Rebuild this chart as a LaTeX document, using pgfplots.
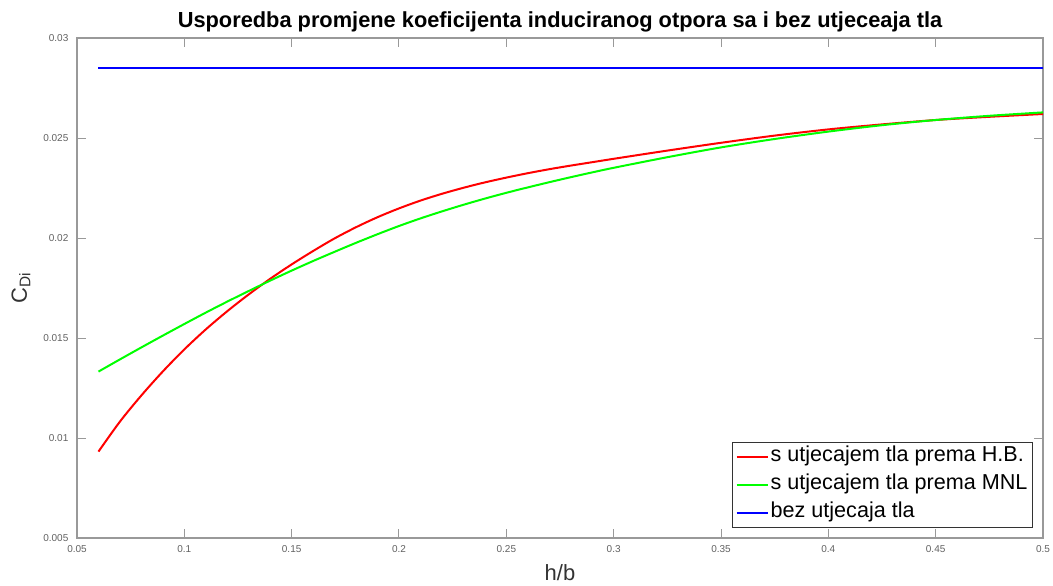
\documentclass[border=0pt]{standalone}
\usepackage{fontspec}
\setmainfont{Liberation Sans}
\usepackage{pgfplots}
\usepackage{pgfplotstable}
\pgfplotsset{compat=1.18}
\definecolor{axgray}{gray}{0.6}
\definecolor{tickgray}{gray}{0.38}
\definecolor{leggray}{gray}{0.2}

\pgfplotstableread{
x      hb       mnl
0.060  0.00932  0.01332
0.070  0.01082  0.01393
0.080  0.01213  0.01453
0.090  0.01333  0.01512
0.100  0.01443  0.01570
0.110  0.01543  0.01627
0.120  0.01634  0.01682
0.130  0.01718  0.01735
0.140  0.01796  0.01787
0.150  0.01868  0.01837
0.160  0.01935  0.01885
0.170  0.01998  0.01931
0.180  0.02054  0.01976
0.190  0.02104  0.02019
0.200  0.02148  0.02060
0.210  0.02187  0.02098
0.220  0.02221  0.02133
0.230  0.02251  0.02166
0.240  0.02278  0.02197
0.250  0.02302  0.02226
0.260  0.02324  0.02253
0.270  0.02344  0.02279
0.280  0.02362  0.02304
0.290  0.02379  0.02328
0.300  0.02396  0.02351
0.325  0.02437  0.02404
0.350  0.02476  0.02453
0.375  0.02512  0.02495
0.400  0.02543  0.02532
0.425  0.02568  0.02564
0.450  0.02590  0.02590
0.475  0.02606  0.02611
0.500  0.02620  0.02628
}\cdidata

\pgfplotstableread{
x     y
0.06  0.02850
0.50  0.02850
}\nogrounddata

\begin{document}
\begin{tikzpicture}
\begin{axis}[
  scale only axis,
  width=483pt, height=250pt,
  xmin=0.05, xmax=0.5, ymin=0.005, ymax=0.03,
  xtick={0.05,0.1,0.15,0.2,0.25,0.3,0.35,0.4,0.45,0.5},
  xticklabels={0.05,0.1,0.15,0.2,0.25,0.3,0.35,0.4,0.45,0.5},
  ytick={0.005,0.01,0.015,0.02,0.025,0.03},
  yticklabels={0.005,0.01,0.015,0.02,0.025,0.03},
  scaled ticks=false,
  tick align=inside,
  major tick length=4.5pt,
  tick style={axgray, line width=0.5pt},
  axis line style={axgray, line width=0.6pt},
  ticklabel style={font=\fontsize{5}{6}\selectfont, text=tickgray},
  yticklabel style={xshift=-0.8pt},
  title={Usporedba promjene koeficijenta induciranog otpora sa i bez utjeceaja tla},
  every axis title/.style={font=\fontsize{10.9}{12}\selectfont\bfseries, at={(axis description cs:0.5,1.032)}, anchor=center},
  xlabel={h/b},
  xlabel style={font=\fontsize{11}{12}\selectfont, text=leggray, at={(axis description cs:0.5,-0.07)}, anchor=center},
  ylabel={C\textsubscript{Di}},
  ylabel style={font=\fontsize{11}{12}\selectfont, text=leggray, at={(axis description cs:-0.058,0.5)}, anchor=center},
  legend style={at={(axis description cs:1,0)}, anchor=south east, xshift=-5pt, yshift=5pt,
    font=\fontsize{10.8}{12}\selectfont, draw=leggray, line width=0.5pt,
    inner xsep=1.5pt, inner ysep=0.3pt, row sep=0pt, column sep=0pt,
    nodes={inner xsep=1pt, inner ysep=0pt, text height=9.5pt, text depth=4.5pt},
    cells={anchor=west}},
  legend image code/.code={\draw[#1] (0pt,0pt) -- (15.5pt,0pt);},
]
\addplot[red, line width=1pt, smooth] table[x=x, y=hb] {\cdidata};
\addlegendentry{s utjecajem tla prema H.B.}
\addplot[green, line width=1pt, smooth] table[x=x, y=mnl] {\cdidata};
\addlegendentry{s utjecajem tla prema MNL}
\addplot[blue, line width=1pt] table[x=x, y=y] {\nogrounddata};
\addlegendentry{bez utjecaja tla}
\end{axis}
\pgfresetboundingbox
\useasboundingbox ([shift={(-38.5pt,-23.5pt)}]current axis.south west) rectangle ([shift={(5pt,19pt)}]current axis.north east);
\end{tikzpicture}
\end{document}
